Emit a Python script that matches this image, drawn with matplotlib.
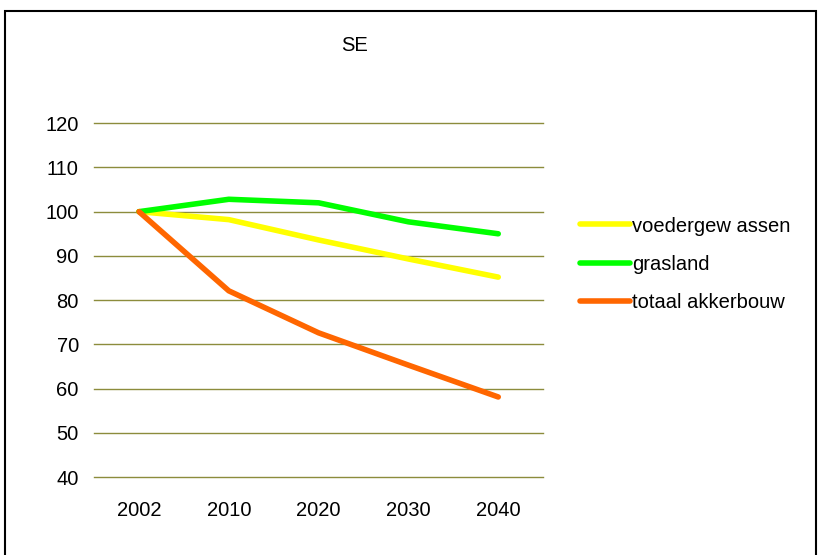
import matplotlib.pyplot as plt
from matplotlib.patches import Rectangle

plt.rcParams["font.family"] = ["Liberation Sans", "DejaVu Sans"]

years = ["2002", "2010", "2020", "2030", "2040"]
voedergewassen = [100, 98.2, 93.6, 89.3, 85.2]
grasland = [100, 102.8, 102.0, 97.7, 95.0]
akkerbouw = [100, 82.1, 72.6, 65.3, 58.1]


def make_chart():
    fig = plt.figure(figsize=(8.18, 5.55), dpi=100)
    ax = fig.add_axes([0.115, 0.1405, 0.549, 0.6375])

    x = range(len(years))
    ax.plot(x, voedergewassen, color="#FFFF00", lw=4, label="voedergew assen",
            solid_capstyle="round", solid_joinstyle="round", zorder=3)
    ax.plot(x, grasland, color="#00FF00", lw=4, label="grasland",
            solid_capstyle="round", solid_joinstyle="round", zorder=3)
    ax.plot(x, akkerbouw, color="#FF6600", lw=4, label="totaal akkerbouw",
            solid_capstyle="round", solid_joinstyle="round", zorder=4)

    ax.set_xlim(-0.5, 4.5)
    ax.set_ylim(40, 120)
    ax.set_yticks(range(40, 121, 10))
    ax.set_xticks(list(x))
    ax.set_xticklabels(years)
    for y in range(40, 121, 10):
        ax.axhline(y, color="#8C8C3C", lw=1, clip_on=False, zorder=1)
    for s in ax.spines.values():
        s.set_visible(False)
    ax.tick_params(length=0, labelsize=14.5)
    ax.tick_params(axis="y", pad=11)
    ax.tick_params(axis="x", pad=17)

    fig.text(0.433, 0.918, "SE", ha="center", va="center", fontsize=14.5)

    fig.legend(loc="center left", bbox_to_anchor=(0.709, 0.524), frameon=False,
               fontsize=14.5, handlelength=2.5, handletextpad=0.1, labelspacing=0.95,
               borderpad=0, borderaxespad=0)

    fig.patches.append(Rectangle((0.006, -0.01), 0.992, 0.99, transform=fig.transFigure,
                                 fill=False, edgecolor="black", lw=1.5))

    fig.savefig("out.png", dpi=100)
    plt.close(fig)


if __name__ == "__main__":
    make_chart()
